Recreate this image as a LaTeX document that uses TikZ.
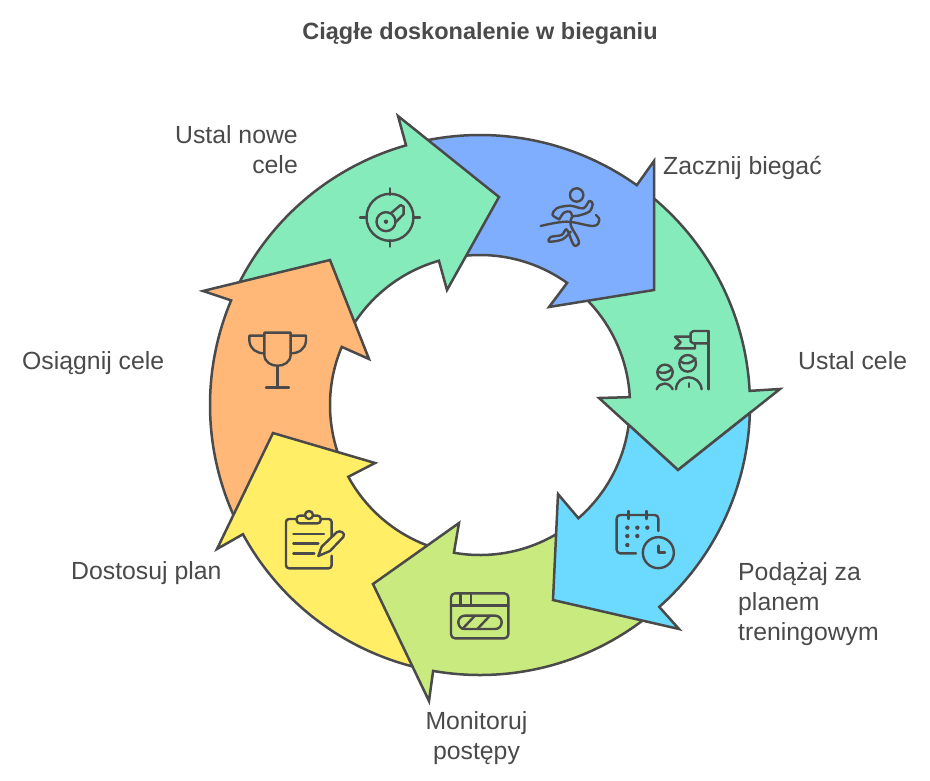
\documentclass[tikz,border=0pt]{standalone}
\usepackage{fontspec}
\setmainfont{Liberation Sans}
\definecolor{ink}{HTML}{4A4A4A}
\definecolor{cmint}{HTML}{86EBBB}
\definecolor{cblue}{HTML}{80AEFF}
\definecolor{ccyan}{HTML}{6CD9FF}
\definecolor{clime}{HTML}{C9EA7E}
\definecolor{cyellow}{HTML}{FFEE66}
\definecolor{corange}{HTML}{FFB878}
\tikzset{
  arrowshape/.style={draw=ink,line width=2.5pt,line join=miter,miter limit=10},
  icon/.style={draw=ink,line width=2.4pt,line cap=round,line join=round},
  label/.style={inner sep=0pt,text=ink,font=\fontsize{24.8}{30}\selectfont},
  ttl/.style={inner sep=0pt,text=ink,font=\fontsize{23.5}{30}\selectfont\bfseries},
}
\newcommand{\outerarc}[2]{arc[start angle=#1,end angle=#2,radius=270pt]}
\newcommand{\innerarc}[2]{arc[start angle=#1,end angle=#2,radius=150pt]}
\begin{document}
\begin{tikzpicture}[x=1pt,y=-1pt]
\useasboundingbox (0,0) rectangle (930,780);
\fill[white] (0,0) rectangle (930,780);
\coordinate (c) at (480,405);
% arrows
\draw[arrowshape,fill=cmint] ([shift={(51:270pt)}]c) \outerarc{51}{3} -- (780,389) -- (678,470) -- (599,398) -- ([shift={(3:150pt)}]c) \innerarc{3}{45} -- cycle;
\draw[arrowshape,fill=cblue] ([shift={(102:270pt)}]c) \outerarc{102}{54.5} -- (654,161) -- (654,290) -- (549,307) -- ([shift={(54.5:150pt)}]c) \innerarc{54.5}{95} -- cycle;
\draw[arrowshape,fill=cmint] ([shift={(154:270pt)}]c) \outerarc{154}{105.9} -- (398,116) -- (499,197) -- (447,290) -- ([shift={(105.9:150pt)}]c) \innerarc{105.9}{147} -- cycle;
\draw[arrowshape,fill=corange] ([shift={(204.5:270pt)}]c) \outerarc{204.5}{157.2} -- (203,291) -- (330,260) -- (369,359) -- ([shift={(157.2:150pt)}]c) \innerarc{157.2}{199} -- cycle;
\draw[arrowshape,fill=cyellow] ([shift={(-104:270pt)}]c) \outerarc{-104}{-151.4} -- (217,549) -- (273,433) -- (375,463) -- ([shift={(-151.4:150pt)}]c) \innerarc{-151.4}{-110} -- cycle;
\draw[arrowshape,fill=clime] ([shift={(-52.5:270pt)}]c) \outerarc{-52.5}{-100} -- (429,701) -- (373,584) -- (459,523) -- ([shift={(-100:150pt)}]c) \innerarc{-100}{-58} -- cycle;
\draw[arrowshape,fill=ccyan] ([shift={(-1.7:270pt)}]c) \outerarc{-1.7}{-48.4} -- (679,629) -- (553,600) -- (558,494) -- ([shift={(-49:150pt)}]c) \innerarc{-49}{-7.6} -- (678,470) -- cycle;
% target icon
\begin{scope}[xshift=340pt,yshift=-100pt,x=0.3333pt,y=-0.3333pt]
\draw[icon] (150,352) circle[radius=23.5pt];
\draw[icon] (60,352)--(80,352) (220,352)--(240,352) (150,265)--(150,285) (150,420)--(150,440);
\draw[icon] (150,342) -- (182,315) -- (191,320) -- (191,342) -- (166,368);
\draw[icon,fill=cmint] (138,365) circle[radius=9.5pt];
\fill[ink] (138,365) circle[radius=2.2pt];
\end{scope}
% runner icon
\begin{scope}[xshift=340pt,yshift=-100pt,x=0.3333pt,y=-0.3333pt]
\draw[icon] (710,285) circle[radius=6.7pt];
\draw[icon] plot[smooth,tension=0.55] coordinates {(658,358) (638,345) (650,325) (690,317) (730,325) (748,303) (758,312) (748,335) (715,347) (697,350) (692,375) (712,412) (717,430) (705,438) (696,425) (680,388) (665,405) (632,411) (628,425) (668,418) (692,395)};
\draw[icon] plot[smooth,tension=0.6] coordinates {(658,358) (672,338) (690,335) (697,350)};
\draw[icon] plot[smooth,tension=0.6] coordinates {(602,378) (680,365) (760,378) (778,360) (768,345)};
\end{scope}
% flag and people icon
\begin{scope}[xshift=650pt,yshift=-325pt,x=0.3333pt,y=-0.3333pt]
\draw[icon] (175,18) -- (175,193);
\draw[icon] (175,18) -- (130,18) -- (122,24) -- (122,50) -- (130,55) -- (175,55);
\draw[icon] (122,35) -- (75,35) -- (92,52) -- (75,70) -- (135,70) -- (135,55);
\draw[icon] (113,115) circle[radius=8.3pt];
\draw[icon] (90,108) .. controls (105,122) and (125,115) .. (137,100);
\draw[icon] (78,193) .. controls (80,145) and (150,145) .. (155,193);
\draw[icon] (117,175) -- (117,186);
\draw[icon] (45,142) circle[radius=7.7pt];
\draw[icon] (24,140) .. controls (40,148) and (55,142) .. (66,132);
\draw[icon] (20,193) .. controls (28,170) and (58,170) .. (68,193);
\end{scope}
% calendar icon
\begin{scope}[xshift=610pt,yshift=-505pt,x=0.3333pt,y=-0.3333pt]
\draw[icon,rounded corners=3.5pt] (78,145) -- (20,145) -- (20,30) -- (145,30) -- (145,78);
\draw[icon] (55,18) -- (55,42) (110,18) -- (110,42);
\foreach \dx/\dy in {52/68,82/68,112/68,52/93,82/93,52/120} \fill[ink] (\dx,\dy) circle[radius=2.2pt];
\draw[icon] (145,143) circle[radius=15.5pt];
\draw[icon] (145,122) -- (145,143) -- (165,143);
\end{scope}
% window icon
\begin{scope}[xshift=445pt,yshift=-585pt,x=0.3333pt,y=-0.3333pt]
\draw[icon,rounded corners=4pt] (18,25) rectangle (190,160);
\draw[icon] (18,62) -- (190,62) (47,25) -- (47,62) (78,25) -- (78,62);
\draw[icon,rounded corners=6.5pt] (40,92) rectangle (170,132);
\draw[icon] (52,132) -- (90,92) (97,132) -- (135,92);
\end{scope}
% clipboard icon
\begin{scope}[xshift=280pt,yshift=-505pt,x=0.3333pt,y=-0.3333pt]
\draw[icon,rounded corners=3pt] (155,100) -- (155,42) -- (122,42) (50,42) -- (18,42) -- (18,190) -- (155,190) -- (155,152);
\draw[icon,rounded corners=3pt,fill=cyellow] (50,32) rectangle (122,55);
\draw[icon,fill=cyellow] (87,30) circle[radius=4pt];
\draw[icon] (40,87) -- (132,87) (40,116) -- (115,116) (40,146) -- (103,146);
\draw[icon,fill=cyellow] (115,153) -- (125,125) -- (170,82) .. controls (180,74) and (198,84) .. (190,96) -- (150,138) -- cycle;
\end{scope}
% trophy icon
\begin{scope}[xshift=200pt,yshift=-310pt,x=0.3333pt,y=-0.3333pt]
\draw[icon] (272,68) -- (193,68) -- (193,135) .. controls (195,178) and (270,178) .. (272,135) -- cycle;
\draw[icon] (193,77) -- (148,77) -- (148,92) .. controls (150,118) and (170,130) .. (193,130);
\draw[icon] (272,77) -- (318,77) -- (318,92) .. controls (316,118) and (296,130) .. (272,130);
\draw[icon] (232,168) -- (232,232) (198,232) -- (267,232);
\end{scope}
% labels
\node[ttl] (title) at (480,33) {Ciągłe doskonalenie w bieganiu};
\node[label,anchor=east,align=right] (l1) at (298,150) {Ustal nowe\\cele};
\node[label,anchor=west] (l2) at (663,168) {Zacznij biegać};
\node[label,anchor=west] (l3) at (798,361) {Ustal cele};
\node[label,anchor=west,align=left] (l4) at (738,604) {Podążaj za\\planem\\treningowym};
\node[label,align=center] (l5) at (476.5,738) {Monitoruj\\postępy};
\node[label,anchor=west] (l6) at (71,573) {Dostosuj plan};
\node[label,anchor=west] (l7) at (22,363) {Osiągnij cele};
\end{tikzpicture}
\end{document}
